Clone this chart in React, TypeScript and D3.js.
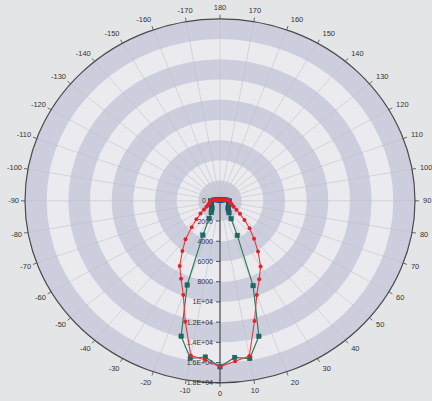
import React from 'react';
import * as d3 from 'd3';

// ---- data ----
const angles = [-180, -170, -160, -150, -140, -130, -120, -110, -100,
  -90, -85, -80, -75, -70, -65, -60, -55, -50, -45, -40, -35, -30, -25, -20, -15, -10, -5, 0,
  5, 10, 15, 20, 25, 30, 35, 40, 45, 50, 55, 60, 65, 70, 75, 80, 85, 90,
  100, 110, 120, 130, 140, 150, 160, 170, 180];

const redValues = [90, 90, 95, 100, 120, 150, 220, 350, 600,
  880, 900, 950, 1040, 1180, 1380, 1700, 2200, 2850, 3700, 4950, 6050, 7440, 8510, 9910, 12380, 15540, 15810, 16420,
  15920, 15590, 12310, 9920, 8570, 7490, 6120, 4890, 3850, 2950, 2250, 1750, 1400, 1200, 1050, 950, 900, 880,
  600, 350, 220, 150, 120, 100, 95, 90, 90];

const greenValues = [80, 80, 85, 90, 110, 140, 200, 320, 560,
  850, 850, 860, 870, 880, 900, 920, 950, 1000, 1050, 1200, 1420, 2015, 3740, 8860, 13860, 15820, 15510, 16420,
  15550, 15840, 13870, 8930, 3770, 2050, 1450, 1200, 1050, 1000, 950, 920, 900, 880, 870, 860, 850, 850,
  560, 320, 200, 140, 110, 90, 85, 80, 80];

const angleTicks = [-170, -160, -150, -140, -130, -120, -110, -100, -90, -80, -70, -60, -50, -40, -30, -20, -10,
  0, 10, 20, 30, 40, 50, 60, 70, 80, 90, 100, 110, 120, 130, 140, 150, 160, 170, 180];

const radialTicks = [0, 2000, 4000, 6000, 8000, 10000, 12000, 14000, 16000, 18000];
const radialTickLabels = ['0', '2000', '4000', '6000', '8000', '1E+04', '1.2E+04', '1.4E+04', '1.6E+04', '1.8E+04'];

// ---- layout ----
const W = 432;
const H = 401;
const cx = 220;
const cy = 200.8;
const rx = 195;
const ry = 182;

const rScale = d3.scaleLinear().domain([0, 18000]).range([0, 1]);

const pt = (deg: number, v: number): [number, number] => {
  const t = (deg * Math.PI) / 180;
  const k = rScale(v);
  return [cx + k * rx * Math.sin(t), cy + k * ry * Math.cos(t)];
};

const edge = (deg: number, extra: number): [number, number] => {
  const t = (deg * Math.PI) / 180;
  return [cx + (rx + extra) * Math.sin(t), cy + (ry + extra) * Math.cos(t)];
};

const FONT = 'Liberation Sans, Arial, sans-serif';

export default function App() {
  const line = d3.line<[number, number]>();
  const redPts = angles.map((a, i) => pt(a, redValues[i]));
  const greenPts = angles.map((a, i) => pt(a, greenValues[i]));

  const bandRadii = radialTicks.slice(1).reverse();

  return (
    <svg width={W} height={H} style={{ position: 'absolute', left: 0, top: 0 }}>
      <rect x={0} y={0} width={W} height={H} fill="#e4e5e7" />
      {bandRadii.map((v) => (
        <ellipse key={v} cx={cx} cy={cy} rx={rScale(v) * rx} ry={rScale(v) * ry}
          fill={(v / 2000) % 2 === 1 ? '#cdcedd' : '#ebebef'} />
      ))}
      {angleTicks.map((a) => {
        const [x, y] = edge(a, 0);
        return <line key={'s' + a} x1={cx} y1={cy} x2={x} y2={y} stroke="#bfc0c8" strokeWidth={0.6} />;
      })}
      <ellipse cx={cx} cy={cy} rx={rx} ry={ry} fill="none" stroke="#4a4a4a" strokeWidth={1.2} />
      {angleTicks.map((a) => {
        const [x1, y1] = edge(a, 0);
        const [x2, y2] = edge(a, 4);
        return <line key={'t' + a} x1={x1} y1={y1} x2={x2} y2={y2} stroke="#4a4a4a" strokeWidth={0.8} />;
      })}
      {angleTicks.map((a) => {
        const t = (a * Math.PI) / 180;
        const s = Math.sin(t);
        const c = Math.cos(t);
        const [x, y] = edge(a, 6);
        const anchor = Math.abs(s) < 0.2 ? 'middle' : s > 0 ? 'start' : 'end';
        const yc = y + 5 * c;
        return (
          <text key={'l' + a} x={x + (s > 0.2 ? 2 : 0)} y={yc + 2.6} textAnchor={anchor} fontSize={7.5}
            fontFamily={FONT} fill="#333">{String(a)}</text>
        );
      })}
      {/* radial axis */}
      <line x1={cx} y1={cy} x2={cx} y2={cy + ry} stroke="#333" strokeWidth={1} />
      {radialTicks.map((v, i) => {
        const [, y] = pt(0, v);
        return (
          <g key={'r' + v}>
            <line x1={cx - 4} y1={y} x2={cx} y2={y} stroke="#333" strokeWidth={0.8} />
            <text x={v === 0 ? cx - 14 : cx - 7} y={y + 2.5} textAnchor="end" fontSize={7}
              fontFamily={FONT} fill="#333">{radialTickLabels[i]}</text>
          </g>
        );
      })}
      {/* green series */}
      <path d={line(greenPts) || ''} fill="none" stroke="#2b7d5c" strokeWidth={1.2} />
      {greenPts.map(([x, y], i) => (
        <rect key={'g' + i} x={x - 2.2} y={y - 2.2} width={4.4} height={4.4}
          fill="#1e6e4e" stroke="#1d4f86" strokeWidth={0.5} />
      ))}
      {/* red series */}
      <path d={line(redPts) || ''} fill="none" stroke="#e8383c" strokeWidth={1.1} />
      {redPts.map(([x, y], i) => (
        <circle key={'rd' + i} cx={x} cy={y} r={2} fill="#e3222b" />
      ))}
    </svg>
  );
}
